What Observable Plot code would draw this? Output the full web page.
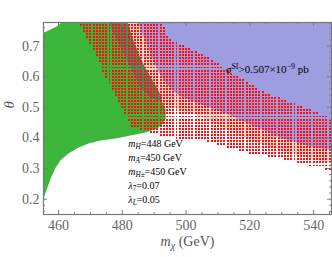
<!DOCTYPE html>
<html><head><meta charset="utf-8">
<script src="https://cdn.jsdelivr.net/npm/d3@7"></script>
<script src="https://cdn.jsdelivr.net/npm/@observablehq/plot@0.6"></script>
<style>
body{margin:0;background:#fff;}
#chart svg{display:block;}
</style></head><body><div id="chart"></div>
<script>
// ---- axis ticks ----
const xTicks = [460, 480, 500, 520, 540];
const xMinor = [465, 470, 475, 485, 490, 495, 505, 510, 515, 525, 530, 535, 545];
const yTicks = [0.2, 0.3, 0.4, 0.5, 0.6, 0.7];
const yMinor = [0.16, 0.18, 0.22, 0.24, 0.26, 0.28, 0.32, 0.34, 0.36, 0.38, 0.42, 0.44, 0.46, 0.48,
                0.52, 0.54, 0.56, 0.58, 0.62, 0.64, 0.66, 0.68, 0.72, 0.74, 0.76];

// ---- regions [mχ (GeV), θ] ----
const greenRegion = [[455, 0.742], [457.5, 0.754], [459.4, 0.764], [461.3, 0.78], [481.6, 0.78],
  [483.5, 0.718], [486.0, 0.653], [488.9, 0.598], [491.0, 0.561], [492.6, 0.529], [493.6, 0.490],
  [493.6, 0.463], [492.6, 0.444], [491.0, 0.431], [487.3, 0.418], [482.6, 0.408], [477.9, 0.398],
  [473.2, 0.392], [469.4, 0.382], [466.3, 0.369], [463.1, 0.349], [460.6, 0.326], [459.1, 0.303],
  [457.5, 0.267], [456.2, 0.228], [455.3, 0.202], [455, 0.19]];

const bandRegion = [[475.4, 0.78], [484.8, 0.78], [488.9, 0.669], [492.0, 0.604], [495.1, 0.561],
  [498.3, 0.535], [504.5, 0.509], [512.4, 0.480], [520.2, 0.444], [529.6, 0.401], [537.5, 0.375],
  [546, 0.359], [546, 0.317], [537.5, 0.336], [529.6, 0.359], [520.2, 0.392], [512.4, 0.431],
  [504.5, 0.470], [496.7, 0.496], [493.6, 0.509], [492.0, 0.519], [488.9, 0.529], [485.7, 0.561],
  [481.6, 0.646]];

const overlapRegion = [[475.4, 0.78], [481.6, 0.78], [483.5, 0.718], [486.0, 0.653], [488.9, 0.598],
  [491.0, 0.561], [492.6, 0.529], [492.0, 0.519], [488.9, 0.529], [485.7, 0.561], [481.6, 0.646]];

const blueRegion = [[484.8, 0.78], [546, 0.78], [546, 0.359], [537.5, 0.375], [529.6, 0.401],
  [520.2, 0.444], [512.4, 0.480], [504.5, 0.509], [498.3, 0.535], [495.1, 0.561], [492.0, 0.604],
  [488.9, 0.669]];

const redRegion = [[466.0, 0.78], [473.2, 0.637], [478.5, 0.522], [482.6, 0.441], [488.9, 0.418],
  [493.6, 0.405], [498.3, 0.398], [508.6, 0.388], [510.8, 0.375], [520.2, 0.349], [529.6, 0.333],
  [535.9, 0.317], [546, 0.294], [546, 0.463], [525.2, 0.545], [504.5, 0.676], [494.2, 0.725],
  [492.6, 0.78]];

// scan grid of the red points
const scanMasses = d3.range(455, 547, 1);
const scanThetas = d3.range(15, 79).map(i => i / 100);

// ---- annotations ----
const sigmaText = "σSI>0.507×10−9 pb";
const sigmaPos = [525.5, 0.622];
const paramLabels = ["mH=448 GeV", "mA=450 GeV", "mH±=450 GeV", "λ7=0.07", "λL=0.05"];
const paramThetas = [0.382, 0.336, 0.290, 0.245, 0.199];
const paramMass = 481.9;
const xLabel = "mχ (GeV)";
const yLabel = "θ";

const GREEN = "#3bb63b", BLUE = "#9d9ddf", BAND = "#e3d6ca", DARK = "#4f8a5f";

const redPoints = [];
for (const m of scanMasses) for (const t of scanThetas)
  if (d3.polygonContains(redRegion, [m, t])) redPoints.push([m, t]);

const poly = (data, fill) => Plot.line(data, {x: d => d[0], y: d => d[1], fill, stroke: "none",
  curve: "linear-closed", clip: true});

const FW = 288, FH = 192;
const plot = Plot.plot({
  width: 332, height: 257,
  marginLeft: 43, marginRight: 1, marginTop: 22, marginBottom: 43,
  style: {fontFamily: "'Liberation Serif', 'Times New Roman', serif", fontSize: "14px", color: "#666", background: "#fff"},
  x: {domain: [455.3, 545.6]},
  y: {domain: [0.15, 0.777]},
  marks: [
    poly(greenRegion, GREEN),
    poly(bandRegion, BAND),
    poly(blueRegion, BLUE),
    poly(overlapRegion, DARK),
    Plot.dot(redPoints, {x: d => d[0], y: d => d[1], symbol: "square", r: 1.1, fill: "#ff1010", stroke: "none",
      shapeRendering: "crispEdges", clip: true}),
    Plot.text([sigmaText], {x: () => sigmaPos[0], y: () => sigmaPos[1], text: d => d, fontSize: 11, fill: "#000", textAnchor: "middle"}),
    Plot.text(paramLabels, {x: () => paramMass, y: (d, i) => paramThetas[i], text: d => d, fontSize: 10, fill: "#000", textAnchor: "start"}),
    Plot.axisX({ticks: xTicks, tickSize: 0, tickPadding: 6, label: null, fontSize: 14}),
    Plot.axisY({ticks: yTicks, tickSize: 0, tickPadding: 4, label: null, fontSize: 14, tickFormat: d => d.toFixed(1)}),
    Plot.tickX(xTicks, {x: d => d, insetTop: FH - 4, stroke: "#777"}),
    Plot.tickX(xTicks, {x: d => d, insetBottom: FH - 4, stroke: "#777"}),
    Plot.tickX(xMinor, {x: d => d, insetTop: FH - 2, stroke: "#888"}),
    Plot.tickX(xMinor, {x: d => d, insetBottom: FH - 2, stroke: "#888"}),
    Plot.tickY(yTicks, {y: d => d, insetRight: FW - 4, stroke: "#777"}),
    Plot.tickY(yTicks, {y: d => d, insetLeft: FW - 4, stroke: "#777"}),
    Plot.tickY(yMinor, {y: d => d, insetRight: FW - 2, stroke: "#888"}),
    Plot.tickY(yMinor, {y: d => d, insetLeft: FW - 2, stroke: "#888"}),
    Plot.frame({stroke: "#777", strokeWidth: 1.2}),
    Plot.text([xLabel], {frameAnchor: "bottom", dy: 31, text: d => d, fontSize: 14, fill: "#555", textAnchor: "middle"}),
    Plot.text([yLabel], {frameAnchor: "left", dx: -34, dy: -10, text: d => d, fontSize: 15, fill: "#555", rotate: -90, fontStyle: "italic"})
  ]
});

// rich text (sub/superscripts)
const NS = "http://www.w3.org/2000/svg";
function rich(el, parts, sub, sup) {
  el.textContent = "";
  let shift = 0;
  for (const p of parts) {
    const ts = document.createElementNS(NS, "tspan");
    ts.textContent = p.t;
    const target = p.sub ? sub : p.sup ? -sup : 0;
    if (target !== shift) { ts.setAttribute("dy", target - shift); shift = target; }
    if (p.i) ts.setAttribute("font-style", "italic");
    if (p.sub || p.sup) ts.setAttribute("font-size", "72%");
    el.appendChild(ts);
  }
}
const richMap = {
  [sigmaText]: [[{t: "σ", i: 1}, {t: "SI", sup: 1}, {t: ">0.507×10"}, {t: "−9", sup: 1}, {t: " pb"}], 3, 4],
  [paramLabels[0]]: [[{t: "m", i: 1}, {t: "H", i: 1, sub: 1}, {t: "=448 GeV"}], 2.5, 3],
  [paramLabels[1]]: [[{t: "m", i: 1}, {t: "A", i: 1, sub: 1}, {t: "=450 GeV"}], 2.5, 3],
  [paramLabels[2]]: [[{t: "m", i: 1}, {t: "H±", i: 1, sub: 1}, {t: "=450 GeV"}], 2.5, 3],
  [paramLabels[3]]: [[{t: "λ", i: 1}, {t: "7", sub: 1}, {t: "=0.07"}], 2.5, 3],
  [paramLabels[4]]: [[{t: "λ", i: 1}, {t: "L", i: 1, sub: 1}, {t: "=0.05"}], 2.5, 3],
  [xLabel]: [[{t: "m", i: 1}, {t: "χ", i: 1, sub: 1}, {t: " (GeV)"}], 3.5, 4]
};
plot.querySelectorAll("text").forEach(el => {
  const r = richMap[el.textContent];
  if (r) rich(el, r[0], r[1], r[2]);
});
document.getElementById("chart").appendChild(plot);
</script>
</body></html>
